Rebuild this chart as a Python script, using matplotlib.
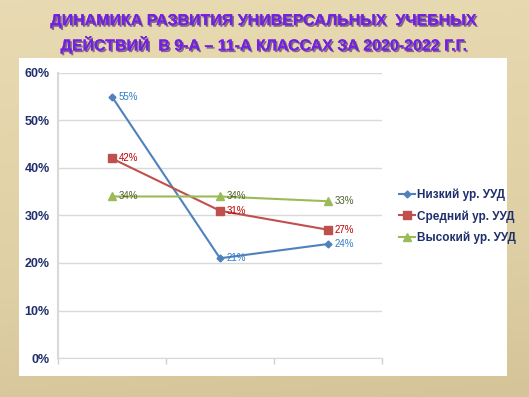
import numpy as np
import matplotlib.pyplot as plt
import matplotlib.patheffects as pe
from matplotlib.patches import Rectangle
from matplotlib.colors import LinearSegmentedColormap

# data
years = ['2020', '2021', '2022']
low = [55, 21, 24]
mid = [42, 31, 27]
high = [34, 34, 33]
series_names = ['Низкий ур. УУД', 'Средний ур. УУД', 'Высокий ур. УУД']
yticks = [0, 10, 20, 30, 40, 50, 60]

line_colors = ['#4F81BD', '#C0504D', '#9BBB59']
label_colors = ['#2E7BC8', '#C00000', '#4F6228']
markers = ['D', 's', '^']
msizes = [3.5, 5.5, 5.5]

fig = plt.figure(figsize=(5.29, 3.97), dpi=100)
fig.patch.set_facecolor('#E4D5AB')

# beige paper-like background
bg = fig.add_axes([0, 0, 1, 1], zorder=-10)
beige = LinearSegmentedColormap.from_list('beige', ['#CDB98E', '#DFCFA4', '#E8DAB2'])
yy = np.linspace(0, 1, 100)[:, None]
xx = np.linspace(0, 1, 100)[None, :]
grad = 0.55 + 0.4 * yy + 0.05 * (1 - xx)
bg.imshow(grad, cmap=beige, vmin=0.4, vmax=1.0, aspect='auto', extent=[0, 1, 0, 1], origin='lower')
bg.set_axis_off()

# white chart box
fig.patches.append(Rectangle((0.036, 0.053), 0.922, 0.801, transform=fig.transFigure,
                             facecolor='white', edgecolor='none', zorder=-5))

shadow = [pe.withSimplePatchShadow(offset=(1.2, -1.2), shadow_rgbFace='#3A2060', alpha=0.6), pe.Normal()]
fig.text(0.5, 0.948, 'ДИНАМИКА РАЗВИТИЯ УНИВЕРСАЛЬНЫХ  УЧЕБНЫХ', ha='center', va='center',
         fontsize=11.5, fontweight='bold', color='#7420E0', family='Liberation Sans', path_effects=shadow)
fig.text(0.5, 0.888, 'ДЕЙСТВИЙ  В 9-А – 11-А КЛАССАХ ЗА 2020-2022 Г.Г.', ha='center', va='center',
         fontsize=11.5, fontweight='bold', color='#7420E0', family='Liberation Sans', path_effects=shadow)

ax = fig.add_axes([0.1096, 0.0982, 0.6125, 0.718])
ax.set_facecolor('none')
x = np.arange(len(years))
handles = []
for vals, name, lc, tc, mk, ms in zip([low, mid, high], series_names, line_colors, label_colors, markers, msizes):
    h, = ax.plot(x, vals, color=lc, lw=1.5, marker=mk, ms=ms, label=name)
    handles.append(h)
    for xi, v in zip(x, vals):
        ax.annotate(f'{v}%', (xi, v), xytext=(5, 0), textcoords='offset points',
                    ha='left', va='center', fontsize=7, color=tc, family='Liberation Sans')

ax.set_xlim(-0.5, 2.5)
ax.set_ylim(0, 60)
ax.set_yticks(yticks)
ax.set_yticklabels([f'{t}%' for t in yticks], fontsize=9, fontweight='bold', color='#1F2F6B',
                   family='Liberation Sans')
ax.set_xticks([-0.5, 0.5, 1.5, 2.5])
ax.set_xticklabels([])
ax.tick_params(axis='x', direction='out', length=4, color='#D0D0D0', width=1)
ax.tick_params(axis='y', length=0, pad=6)
ax.grid(axis='y', color='#D9D9D9', lw=1)
ax.set_axisbelow(True)
for s in ['top', 'right']:
    ax.spines[s].set_visible(False)
ax.spines['left'].set_color('#D9D9D9')
ax.spines['bottom'].set_color('#D9D9D9')
ax.spines['left'].set_linewidth(1.5)

leg = fig.legend(handles=handles, loc='center left', bbox_to_anchor=(0.735, 0.455), frameon=False,
                 prop={'family': 'Liberation Sans', 'size': 8.5, 'weight': 'bold'},
                 handlelength=1.3, handletextpad=0.2, labelspacing=0.75)
for t in leg.get_texts():
    t.set_color('#1F2F6B')

fig.savefig('out.png', dpi=100)
